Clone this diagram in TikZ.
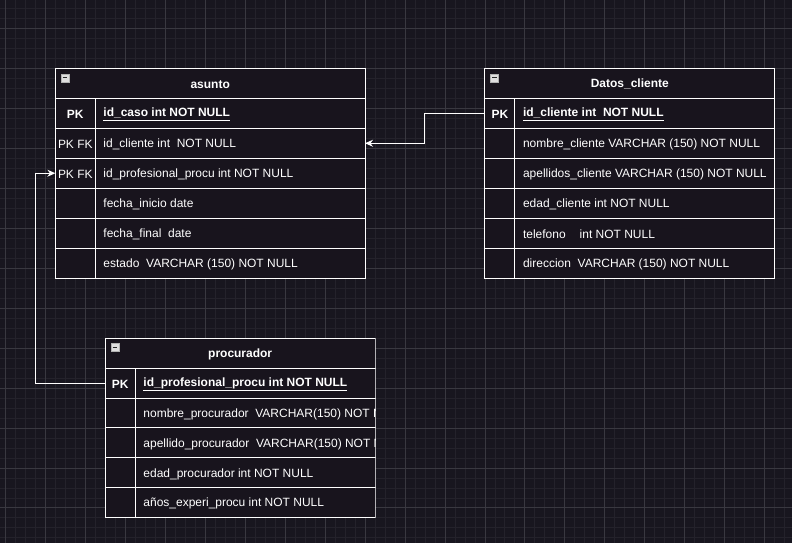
\documentclass[tikz,border=0pt]{standalone}
\usepackage{fontspec}
\setmainfont{Liberation Sans}
\usetikzlibrary{arrows.meta,positioning,calc}

\definecolor{bg}{HTML}{18161F}
\definecolor{tblfill}{HTML}{18141D}
\definecolor{gridminor}{HTML}{24222B}
\definecolor{gridmajor}{HTML}{393840}

\begin{document}
\begin{tikzpicture}[x=1pt,y=-1pt,>={Stealth[length=8pt,width=7pt]},
  row/.style={draw=white,line width=1pt,fill=tblfill,minimum height=30pt,
    anchor=north west,inner sep=0pt,outer sep=0pt},
  txt/.style={text=white,font=\fontsize{12}{14}\selectfont,anchor=west,inner sep=0pt,yshift=-1pt},
  key/.style={text=white,font=\fontsize{12}{14}\selectfont,inner sep=0pt,yshift=-1pt},
  head/.style={text=white,font=\fontsize{12}{14}\selectfont\bfseries,inner sep=0pt,yshift=-1pt},
  icon/.style={draw=gray!60,fill=gray!25,minimum size=8pt,inner sep=0pt,
    path picture={\draw[line width=1.3pt,black!85]
      ($(path picture bounding box.west)+(1.8pt,0)$) --
      ($(path picture bounding box.east)+(-1.8pt,0)$);}},
  link/.style={draw=white,line width=1pt,->}]

% background grid
\fill[bg] (0,0) rectangle (792,543);
\foreach \x in {5,15,...,785} \draw[gridminor,line width=0.8pt] (\x,0) -- (\x,543);
\foreach \y in {8,18,...,538} \draw[gridminor,line width=0.8pt] (0,\y) -- (792,\y);
\foreach \x in {5,45,...,765} \draw[gridmajor,line width=0.8pt] (\x,0) -- (\x,543);
\foreach \y in {28,68,...,508} \draw[gridmajor,line width=0.8pt] (0,\y) -- (792,\y);
\useasboundingbox (0,0) rectangle (792,543);

% asunto
\node[row,minimum width=310pt] (asunto) at (55,68) {};
\node[head] (asunto-t) at (asunto.center) {asunto};
\node[icon] (asunto-i) at (64.5,77.5) {};
\foreach \k/\t [count=\i] in {
    {\bfseries PK}/{\bfseries\underline{id\_caso int NOT NULL}},
    PK FK/{id\_cliente int\ \ NOT NULL},
    PK FK/{id\_profesional\_procu int NOT NULL},
    {}/{fecha\_inicio date},
    {}/{fecha\_final\ \ date},
    {}/{estado\ \ VARCHAR (150) NOT NULL}} {
  \node[row,minimum width=310pt] (asunto-\i) at (55,68+30*\i) {};
  \draw[white,line width=1pt] ($(asunto-\i.north west)+(40,0)$) -- ++(0,30);
  \node[key] (asunto-k\i) at ($(asunto-\i.west)+(20,0)$) {\k};
  \node[txt] (asunto-c\i) at ($(asunto-\i.west)+(48,0)$) {\t};
}

% Datos_cliente
\node[row,minimum width=290pt] (datos) at (485,68) {};
\node[head] (datos-t) at (datos.center) {Datos\_cliente};
\node[icon] (datos-i) at (494.5,77.5) {};
\foreach \k/\t [count=\i] in {
    {\bfseries PK}/{\bfseries\underline{id\_cliente int\ \ NOT NULL}},
    {}/{nombre\_cliente VARCHAR (150) NOT NULL},
    {}/{apellidos\_cliente VARCHAR (150) NOT NULL},
    {}/{edad\_cliente int NOT NULL},
    {}/{telefono\hspace{14pt}int NOT NULL},
    {}/{direccion\ \ VARCHAR (150) NOT NULL}} {
  \node[row,minimum width=290pt] (datos-\i) at (485,68+30*\i) {};
  \draw[white,line width=1pt] ($(datos-\i.north west)+(30,0)$) -- ++(0,30);
  \node[key] (datos-k\i) at ($(datos-\i.west)+(15,0)$) {\k};
  \node[txt] (datos-c\i) at ($(datos-\i.west)+(38,0)$) {\t};
}

% procurador
\begin{scope}
\clip (103,336) rectangle (375.5,520);
\node[row,minimum width=270pt] (procurador) at (105,338) {};
\node[head] (procurador-t) at (procurador.center) {procurador};
\node[icon] (procurador-i) at (114.5,347.5) {};
\foreach \k/\t [count=\i] in {
    {\bfseries PK}/{\bfseries\underline{id\_profesional\_procu int NOT NULL}},
    {}/{nombre\_procurador\ \ VARCHAR(150) NOT NULL},
    {}/{apellido\_procurador\ \ VARCHAR(150) NOT NULL},
    {}/{edad\_procurador int NOT NULL},
    {}/{años\_experi\_procu int NOT NULL}} {
  \node[row,minimum width=270pt] (procurador-\i) at (105,338+30*\i) {};
  \draw[white,line width=1pt] ($(procurador-\i.north west)+(30,0)$) -- ++(0,30);
  \node[key] (procurador-k\i) at ($(procurador-\i.west)+(15,0)$) {\k};
  \node[txt] (procurador-c\i) at ($(procurador-\i.west)+(38,0)$) {\t};
}
\end{scope}

% relations
\draw[link] (datos-1.west) -- ++(-60,0) |- (asunto-2.east);
\draw[link] (procurador-1.west) -- ++(-70,0) |- (asunto-3.west);
\end{tikzpicture}
\end{document}
